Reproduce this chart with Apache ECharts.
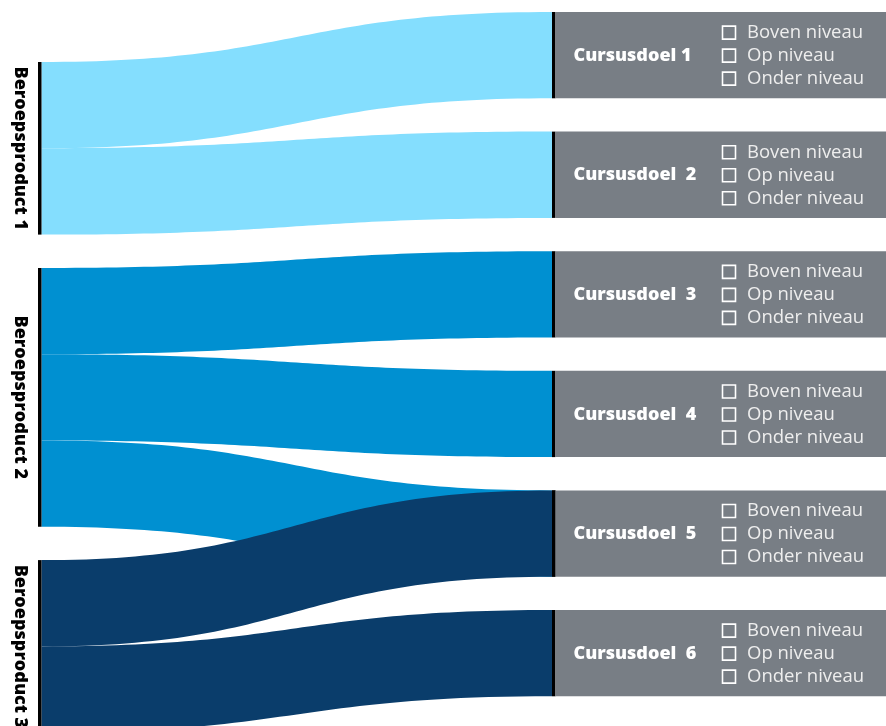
<!DOCTYPE html>
<html>
<head>
<meta charset="utf-8">
<script src="https://cdn.jsdelivr.net/npm/echarts@6/dist/echarts.min.js"></script>
<style>
html,body{margin:0;padding:0;background:#fff;}
#chart{width:886px;height:726px;}
</style>
</head>
<body>
<div id="chart"></div>
<script>
// ---- data ----
const sources = ['Beroepsproduct 1', 'Beroepsproduct 2', 'Beroepsproduct 3'];
const targets = ['Cursusdoel 1', 'Cursusdoel  2', 'Cursusdoel  3', 'Cursusdoel  4', 'Cursusdoel  5', 'Cursusdoel  6'];
const levels = ['Boven niveau', 'Op niveau', 'Onder niveau'];
const linkSource = [0, 0, 1, 1, 1, 2, 2];
const linkTarget = [0, 1, 2, 3, 4, 4, 5];
const linkValue = [1, 1, 1, 1, 1, 1, 1];
const sourceColors = ['#84DEFE', '#0090D1', '#0A3D6B'];
// drawing layers (later layer drawn on top)
const layers = [[0, 1], [2]];

// ---- layout / style constants ----
const FONT = '"Open Sans", "Noto Sans", sans-serif';
const unit = 86.3;      // px per value unit
const gap = 33.3;       // node gap
const leftTop = 62;
const rightTop = 12;
const chartLeft = 38;
const nodeW = 3.5;
const chartWidth = 555.5 - chartLeft;
const boxW = 331;
const lineH = 23;

// source totals
const srcTotal = sources.map((s, i) => linkValue.reduce((a, v, k) => a + (linkSource[k] === i ? v : 0), 0));
// desired y of each node
const srcY = [];
let acc = leftTop;
srcTotal.forEach((t, i) => { srcY[i] = acc; acc += t * unit + gap; });
const tgtY = targets.map((t, i) => rightTop + i * (unit + gap));

const padV = (unit - 3 * lineH) / 2;

function targetLabel(show) {
  return {
    show: show,
    position: 'right',
    distance: 0,
    align: 'left',
    verticalAlign: 'middle',
    backgroundColor: '#787E85',
    padding: [padV + 0.5, 0, padV - 0.5, 18],
    width: boxW - 18,
    formatter: function (p) {
      const n = p.name;
      return '{t|}{b|}{s|}{c|' + levels[0] + '}\n' +
             '{t|' + n + '}{b|}{s|}{c|' + levels[1] + '}\n' +
             '{t|}{b|}{s|}{c|' + levels[2] + '}';
    },
    rich: {
      t: { width: 149, fontSize: 18, fontWeight: 800, color: '#ffffff', fontFamily: FONT, lineHeight: lineH },
      b: { width: 13, height: 13, borderColor: '#ffffff', borderWidth: 1.6, lineHeight: lineH },
      s: { width: 11.5, lineHeight: lineH },
      c: { fontSize: 18.5, color: '#EEEEEE', fontFamily: FONT, lineHeight: lineH }
    }
  };
}

function sourceLabel() {
  return {
    show: true,
    position: 'left',
    distance: 17.5,
    align: 'center',
    verticalAlign: 'middle',
    rotate: -90,
    fontSize: 18,
    fontWeight: 800,
    color: '#000000',
    fontFamily: FONT,
    formatter: '{b}'
  };
}

const series = [];
const usedTargets = {};
// the topmost layer that holds a target shows its label
layers.forEach((grp, li) => {
  linkSource.forEach((s, k) => { if (grp.indexOf(s) >= 0) usedTargets[linkTarget[k]] = li; });
});

layers.forEach((grp, li) => {
  const ks = linkSource.map((s, k) => k).filter(k => grp.indexOf(linkSource[k]) >= 0);
  const tIdx = [];
  ks.forEach(k => { if (tIdx.indexOf(linkTarget[k]) < 0) tIdx.push(linkTarget[k]); });
  tIdx.sort((a, b) => a - b);
  const sumL = grp.reduce((a, s) => a + srcTotal[s], 0);
  const tVal = tIdx.map(t => ks.reduce((a, k) => a + (linkTarget[k] === t ? linkValue[k] : 0), 0));
  const sumR = tVal.reduce((a, v) => a + v, 0);
  const H = Math.max(unit * sumL + (grp.length - 1) * gap, unit * sumR + (tIdx.length - 1) * gap);
  const ys = grp.map(s => srcY[s]).concat(tIdx.map(t => tgtY[t]));
  const top = Math.min.apply(null, ys);

  const nodes = [];
  grp.forEach(s => {
    nodes.push({
      name: sources[s],
      depth: 0,
      localY: (srcY[s] - top) / H,
      itemStyle: { color: '#000000', borderWidth: 0 },
      label: sourceLabel()
    });
  });
  tIdx.forEach(t => {
    nodes.push({
      name: targets[t],
      depth: 1,
      localY: (tgtY[t] - top) / H,
      itemStyle: { color: '#000000', borderWidth: 0 },
      label: targetLabel(usedTargets[t] === li)
    });
  });
  const links = ks.map(k => ({
    source: sources[linkSource[k]],
    target: targets[linkTarget[k]],
    value: linkValue[k],
    lineStyle: { color: sourceColors[linkSource[k]], opacity: 1 }
  }));

  series.push({
    type: 'sankey',
    left: chartLeft,
    top: top,
    width: chartWidth,
    height: H,
    nodeWidth: nodeW,
    nodeGap: gap,
    layoutIterations: 0,
    draggable: false,
    emphasis: { disabled: true },
    lineStyle: { curveness: 0.5, opacity: 1 },
    data: nodes,
    links: links,
    z: 2 + li
  });
});

const chart = echarts.init(document.getElementById('chart'), null, { renderer: 'canvas' });
chart.setOption({
  animation: false,
  backgroundColor: '#ffffff',
  series: series
});
</script>
</body>
</html>
